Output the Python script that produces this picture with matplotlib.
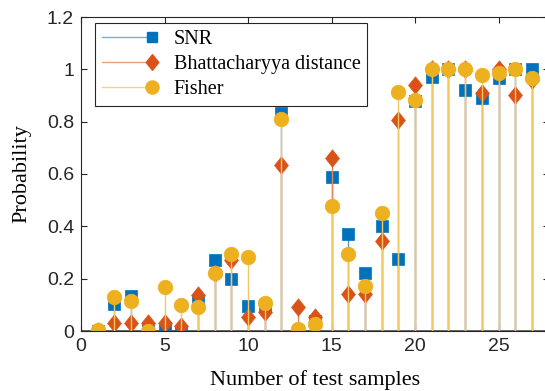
import matplotlib
matplotlib.use("Agg")
import matplotlib.pyplot as plt
from matplotlib.lines import Line2D
from matplotlib.path import Path
from matplotlib.legend_handler import HandlerBase
import matplotlib.colors as mcolors

# data
samples = list(range(1, 28))
snr = [0.0, 0.105, 0.135, 0.01, 0.01, 0.0, 0.12, 0.27, 0.198, 0.095,
       0.10, 0.832, 0.0, 0.04, 0.59, 0.37, 0.223, 0.40, 0.275, 0.88,
       0.972, 1.0, 0.92, 0.889, 0.965, 1.0, 1.0]
bhatt = [0.0, 0.03, 0.03, 0.03, 0.03, 0.02, 0.137, 0.22, 0.27, 0.055,
         0.074, 0.634, 0.09, 0.053, 0.662, 0.14, 0.141, 0.344, 0.808, 0.94,
         1.0, 1.0, 1.0, 0.908, 1.0, 0.90, 0.96]
fisher = [0.005, 0.13, 0.115, 0.0, 0.17, 0.10, 0.093, 0.22, 0.294, 0.284,
          0.108, 0.81, 0.007, 0.027, 0.478, 0.293, 0.172, 0.452, 0.912, 0.883,
          1.0, 1.0, 1.0, 0.978, 0.985, 1.0, 0.968]
series_names = ["SNR", "Bhattacharyya distance", "Fisher"]
yticks = [0, 0.2, 0.4, 0.6, 0.8, 1.0, 1.2]
ytick_labels = ["0", "0.2", "0.4", "0.6", "0.8", "1", "1.2"]
xticks = [0, 5, 10, 15, 20, 25]

colors = ["#0072BD", "#D95319", "#EDB120"]
diamond = Path([(0, 1), (0.8, 0), (0, -1), (-0.8, 0), (0, 1)],
               [Path.MOVETO, Path.LINETO, Path.LINETO, Path.LINETO, Path.CLOSEPOLY])
markers = ["s", diamond, "o"]
msizes = [8.5, 12.5, 10.5]

serif = ["Liberation Serif", "DejaVu Serif"]
sans = ["Liberation Sans", "DejaVu Sans"]


def lighten(c, f):
    r, g, b = mcolors.to_rgb(c)
    return (r + (1 - r) * f, g + (1 - g) * f, b + (1 - b) * f)


class StemHandler(HandlerBase):
    # line with the marker at its right end, like a MATLAB stem legend
    def create_artists(self, legend, orig, xdescent, ydescent, width, height, fontsize, trans):
        y = height / 2 - ydescent
        line = Line2D([-xdescent, width - xdescent], [y, y], color=orig.get_color(),
                      lw=orig.get_linewidth(), transform=trans)
        mk = Line2D([width - xdescent], [y], linestyle="none", marker=orig.get_marker(),
                    markersize=orig.get_markersize(), markerfacecolor=orig.get_markerfacecolor(),
                    markeredgecolor=orig.get_markeredgecolor(), transform=trans)
        return [line, mk]


fig = plt.figure(figsize=(5.45, 3.91), dpi=100)
ax = fig.add_axes([81 / 545, 60 / 391, 467.6 / 545, 314 / 391])

ax.axhline(0, color="#4d4d4d", lw=1.2, zorder=1.5)

handles = []
for vals, c, m, ms in zip([snr, bhatt, fisher], colors, markers, msizes):
    ml, sl, bl = ax.stem(samples, vals, basefmt=" ")
    sl.set_color(lighten(c, 0.3))
    sl.set_linewidth(1.0)
    ml.set_marker(m)
    ml.set_markersize(ms)
    ml.set_markerfacecolor(c)
    ml.set_markeredgecolor(c)
    ml.set_markeredgewidth(0.5)
    ml.set_linestyle("none")
    handles.append(Line2D([], [], color=lighten(c, 0.45), lw=1.0, marker=m,
                          markersize=ms * 0.9, markerfacecolor=c, markeredgecolor=c))

ax.set_xlim(0, 28)
ax.set_ylim(0, 1.2)
ax.set_xticks(xticks)
ax.set_xticklabels([str(t) for t in xticks], family=sans, fontsize=14, color="#262626")
ax.set_yticks(yticks)
ax.set_yticklabels(ytick_labels, family=sans, fontsize=14, color="#262626")
ax.tick_params(direction="in", length=4, width=0.8, color="#262626",
               top=True, right=True, pad=5)
for s in ax.spines.values():
    s.set_color("#262626")
    s.set_linewidth(0.8)

ax.set_xlabel("Number of test samples", family=serif, fontsize=16, labelpad=11)
ax.set_ylabel("Probability", family=serif, fontsize=16, labelpad=11)

leg = ax.legend(handles, series_names, loc="upper left",
                bbox_to_anchor=(0.03, 0.981), borderaxespad=0,
                handler_map={Line2D: StemHandler()},
                prop={"family": serif, "size": 14.5}, handlelength=2.5,
                handletextpad=1.05, labelspacing=0.3, borderpad=0.35,
                fancybox=False, edgecolor="#262626", framealpha=1)
leg.get_frame().set_linewidth(0.8)

fig.savefig("out.png", dpi=100)
